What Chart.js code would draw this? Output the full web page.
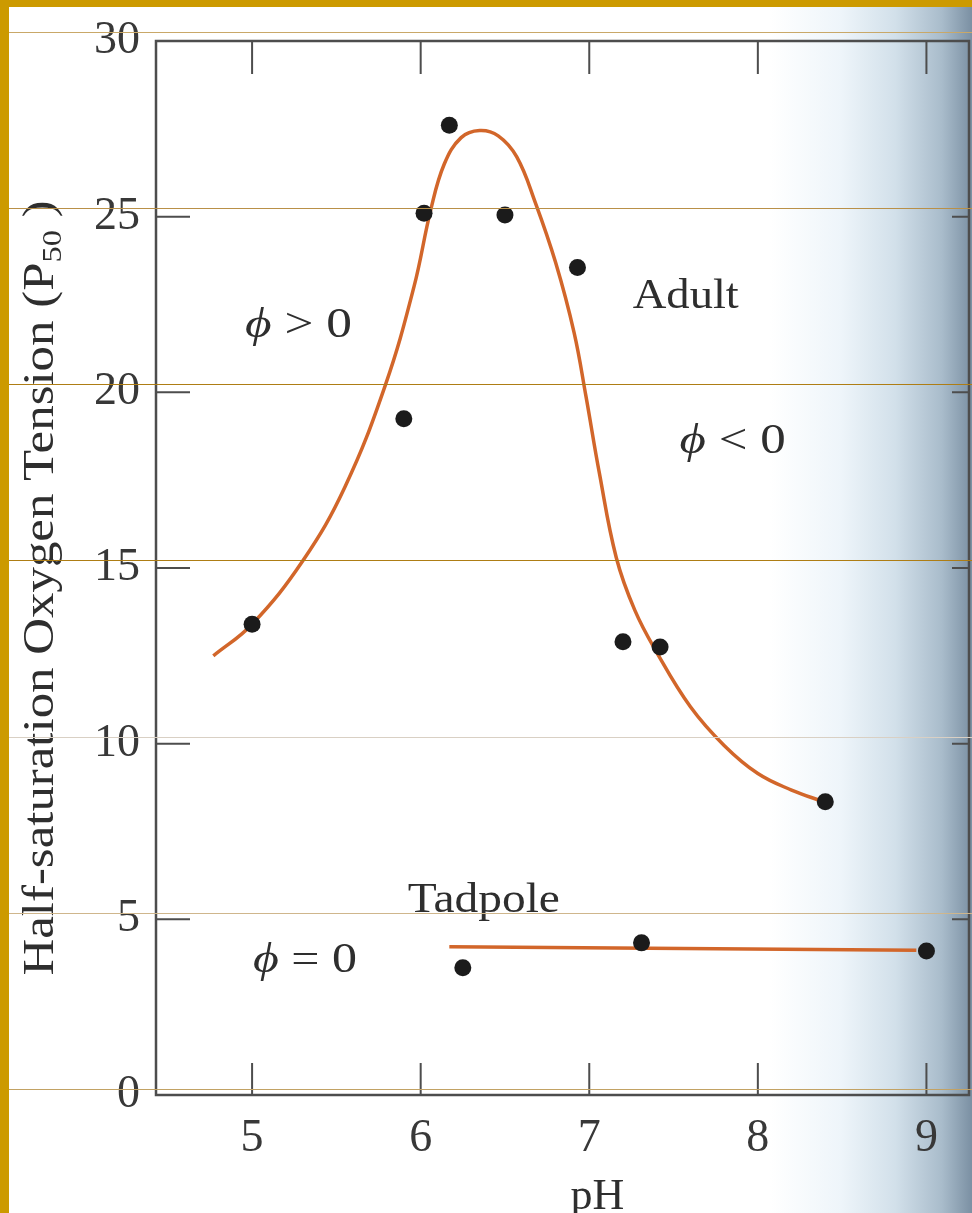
<!DOCTYPE html>
<html>
<head>
<meta charset="utf-8">
<script src="https://cdn.jsdelivr.net/npm/chart.js@4.4.1/dist/chart.umd.min.js"></script>
<style>
  html, body { margin: 0; padding: 0; background: #ffffff; }
  #wrap { position: relative; width: 972px; height: 1213px; }
</style>
</head>
<body>
<div id="wrap"><canvas id="c" width="972" height="1213"></canvas></div>
<script>
// ---- data ----
const xTicks = [5, 6, 7, 8, 9];
const yTicks = [0, 5, 10, 15, 20, 25, 30];

const adultPH  = [5.0, 5.9, 6.02, 6.17, 6.5, 6.93, 7.2, 7.42, 8.4];
const adultP50 = [13.4, 19.25, 25.1, 27.6, 25.05, 23.55, 12.9, 12.75, 8.35];

const tadpolePH  = [6.25, 7.31, 9.0];
const tadpoleP50 = [3.62, 4.33, 4.1];

const adultFitPH  = [4.77, 5.0, 5.3, 5.55, 5.79, 5.96, 6.06, 6.14, 6.24, 6.35, 6.46, 6.57, 6.68, 6.80, 6.91, 6.98, 7.06, 7.16, 7.27, 7.4, 7.6, 7.8, 8.0, 8.2, 8.4];
const adultFitP50 = [12.5, 13.4, 15.2, 17.3, 20.2, 23.0, 25.2, 26.5, 27.25, 27.45, 27.3, 26.7, 25.4, 23.7, 21.7, 19.9, 17.7, 15.3, 13.8, 12.6, 11.05, 9.95, 9.15, 8.68, 8.33];

const tadpoleFitPH  = [6.17, 8.94];
const tadpoleFitP50 = [4.22, 4.12];

// annotation texts with data-space anchors (left edge, baseline)
const noteText = ['ϕ > 0', 'Adult', 'ϕ < 0', 'Tadpole', 'ϕ = 0'];
const notePH   = [4.958, 7.258, 7.536, 5.924, 5.005];
const noteP50  = [21.58, 22.40, 18.27, 5.21, 3.50];
const noteWidth = [107, 106, 106, 152, 104];

const xTitle = 'pH';
const yTitleMain = 'Half-saturation Oxygen Tension (P';
const yTitleSub = '50';
const yTitleEnd = ' )';

const pairs = (xs, ys) => xs.map((x, i) => ({ x: x, y: ys[i] }));
const SERIF = '"Liberation Serif", "Times New Roman", serif';

// ---- plugins ----
const paperPlugin = {
  id: 'paper',
  beforeDraw(chart) {
    const ctx = chart.ctx;
    const W = chart.width, H = chart.height;
    ctx.save();
    ctx.fillStyle = '#ffffff';
    ctx.fillRect(0, 0, W, H);
    const g = ctx.createLinearGradient(770, 0, W, 0);
    g.addColorStop(0, 'rgba(255,255,255,1)');
    g.addColorStop(0.35, '#eef5fa');
    g.addColorStop(0.62, '#d2e0ea');
    g.addColorStop(0.85, '#a9bccb');
    g.addColorStop(1, '#7b90a3');
    ctx.fillStyle = g;
    ctx.fillRect(770, 0, W - 770, H);
    ctx.restore();
  }
};

function drawRuns(ctx, runs, x, y, targetW) {
  let total = 0;
  runs.forEach(r => { ctx.font = r.f; r.w = ctx.measureText(r.t).width; total += r.w; });
  const s = targetW / total;
  ctx.save();
  ctx.textAlign = 'left';
  ctx.textBaseline = 'alphabetic';
  ctx.translate(x, y);
  ctx.scale(s, 1);
  let cx = 0;
  runs.forEach(r => {
    ctx.font = r.f;
    ctx.fillText(r.t, cx, r.dy || 0);
    cx += r.w;
  });
  ctx.restore();
}

const framePlugin = {
  id: 'frame',
  afterDatasetsDraw(chart) {
    const ctx = chart.ctx;
    const a = chart.chartArea;
    const xs = chart.scales.x, ys = chart.scales.y;
    ctx.save();
    ctx.strokeStyle = '#4d4d4d';
    ctx.lineWidth = 2.5;
    ctx.strokeRect(a.left, a.top, a.right - a.left, a.bottom - a.top);
    ctx.lineWidth = 2;
    ctx.beginPath();
    xTicks.forEach(v => {
      const px = xs.getPixelForValue(v);
      ctx.moveTo(px, a.bottom); ctx.lineTo(px, a.bottom - 32);
      ctx.moveTo(px, a.top); ctx.lineTo(px, a.top + 33);
    });
    yTicks.slice(1, -1).forEach(v => {
      const py = ys.getPixelForValue(v);
      ctx.moveTo(a.left, py); ctx.lineTo(a.left + 34, py);
      ctx.moveTo(a.right, py); ctx.lineTo(a.right - 17, py);
    });
    ctx.stroke();
    ctx.restore();
  },
  afterDraw(chart) {
    const ctx = chart.ctx;
    const a = chart.chartArea;
    const xs = chart.scales.x, ys = chart.scales.y;
    ctx.save();
    ctx.fillStyle = '#2e2e2e';
    // annotations
    noteText.forEach((t, i) => {
      const px = xs.getPixelForValue(notePH[i]);
      const py = ys.getPixelForValue(noteP50[i]);
      let runs;
      if (t.startsWith('ϕ')) {
        runs = [{ t: 'ϕ', f: 'italic 42px ' + SERIF }, { t: t.slice(1), f: '42px ' + SERIF }];
      } else {
        runs = [{ t: t, f: '42px ' + SERIF }];
      }
      drawRuns(ctx, runs, px, py, noteWidth[i]);
    });
    // x title
    ctx.textAlign = 'center';
    ctx.textBaseline = 'alphabetic';
    ctx.font = '44px ' + SERIF;
    ctx.fillText(xTitle, xs.getPixelForValue(7) + 8, a.bottom + 114);
    // y title (rotated, with subscript)
    ctx.save();
    ctx.translate(53, 588);
    ctx.rotate(-Math.PI / 2);
    const runs = [
      { t: yTitleMain, f: '44px ' + SERIF },
      { t: yTitleSub, f: '28px ' + SERIF, dy: 8 },
      { t: yTitleEnd, f: '44px ' + SERIF }
    ];
    drawRuns(ctx, runs, -775 / 2, 0, 775);
    ctx.restore();
    ctx.restore();

    // scanned-slide guide lines and gold border
    ctx.save();
    const guides = [32.5, 208.5, 384.5, 560.5, 737.5, 913.5, 1089.5];
    const gcol = ['#c9a868', '#b99048', '#ae7d14', '#ae7d14', '#d9d0c4', '#cfb68c', '#c2a264'];
    ctx.lineWidth = 1;
    guides.forEach((gy, i) => {
      ctx.strokeStyle = gcol[i];
      ctx.beginPath(); ctx.moveTo(8, gy); ctx.lineTo(chart.width, gy); ctx.stroke();
    });
    ctx.fillStyle = '#cc9a00';
    ctx.fillRect(0, 0, chart.width, 7);
    ctx.fillRect(0, 0, 9, chart.height);
    ctx.restore();
  }
};

// ---- chart ----
new Chart(document.getElementById('c'), {
  type: 'scatter',
  data: {
    datasets: [
      { label: 'Adult', data: pairs(adultPH, adultP50), pointRadius: 8.5, pointHoverRadius: 8.5,
        backgroundColor: '#1b1b1b', borderColor: '#1b1b1b', borderWidth: 0, showLine: false },
      { label: 'Tadpole', data: pairs(tadpolePH, tadpoleP50), pointRadius: 8.5, pointHoverRadius: 8.5,
        backgroundColor: '#1b1b1b', borderColor: '#1b1b1b', borderWidth: 0, showLine: false },
      { label: 'Adult fit', data: pairs(adultFitPH, adultFitP50), showLine: true, pointRadius: 0,
        borderColor: '#d2662a', borderWidth: 3.5, tension: 0.4, fill: false },
      { label: 'Tadpole fit', data: pairs(tadpoleFitPH, tadpoleFitP50), showLine: true, pointRadius: 0,
        borderColor: '#d2662a', borderWidth: 3.5, fill: false }
    ]
  },
  options: {
    responsive: false,
    animation: false,
    events: [],
    layout: { autoPadding: false, padding: { top: 41, right: 3, left: 0, bottom: 0 } },
    plugins: { legend: { display: false }, tooltip: { enabled: false } },
    scales: {
      x: {
        type: 'linear', min: 4.43, max: 9.2525,
        grid: { display: false }, border: { display: false },
        afterBuildTicks: s => { s.ticks = xTicks.map(v => ({ value: v })); },
        afterFit: s => { s.height = 118; s.paddingLeft = 0; s.paddingRight = 0; },
        ticks: { padding: 8, color: '#383838', font: { family: SERIF, size: 46 } }
      },
      y: {
        type: 'linear', min: 0, max: 30,
        grid: { display: false }, border: { display: false },
        afterBuildTicks: s => { s.ticks = yTicks.map(v => ({ value: v })); },
        afterFit: s => { s.width = 156; s.paddingTop = 0; s.paddingBottom = 0; },
        ticks: { padding: 8, color: '#383838', font: { family: SERIF, size: 46 } }
      }
    }
  },
  plugins: [paperPlugin, framePlugin]
});
</script>
</body>
</html>
